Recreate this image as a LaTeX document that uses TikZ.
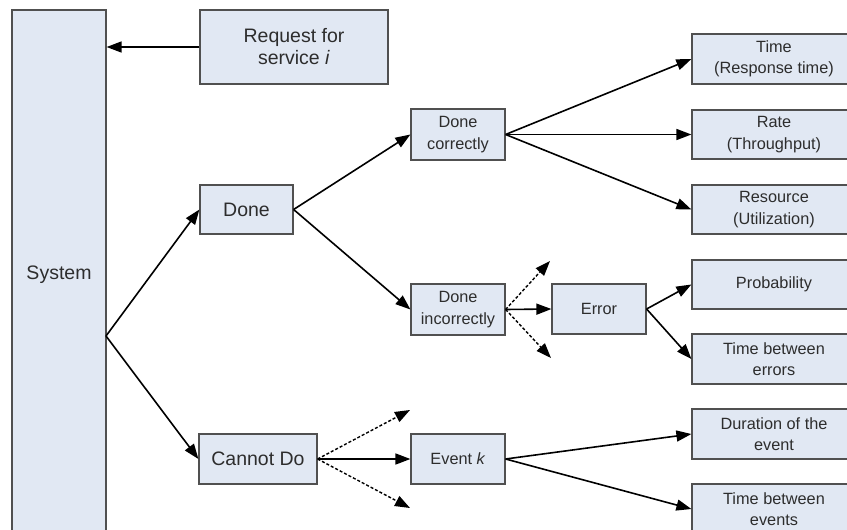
\documentclass[tikz,border=0pt]{standalone}
\usepackage{fontspec}
\setmainfont{Liberation Sans}
\usetikzlibrary{arrows.meta}
\definecolor{boxfill}{RGB}{225,232,243}
\definecolor{boxline}{RGB}{80,80,80}
\definecolor{txt}{RGB}{45,45,45}
\tikzset{
  box/.style={draw=boxline, line width=1.2pt, fill=boxfill, rectangle, inner sep=0pt, align=center, text=txt},
  big/.style={font=\fontsize{19.5}{22}\selectfont},
  small/.style={font=\fontsize{16.3}{21.5}\selectfont},
  conn/.style={line width=1.6pt, -{Triangle[length=15pt,width=11pt]}},
  dconn/.style={line width=1.4pt, dash pattern=on 3pt off 2pt, -{Triangle[length=15pt,width=11pt]}}
}
\begin{document}
\begin{tikzpicture}[x=1pt,y=-1pt]
\useasboundingbox (0,0) rectangle (847,530);
\fill[white] (0,0) rectangle (847,530);
\clip (0,0) rectangle (847,530);
% nodes
\node[box,big,minimum width=94pt,minimum height=530pt] (sys) at (59,275) {System};
\node[box,big,minimum width=188pt,minimum height=74pt] (req) at (294,47) {Request for\\service \textit{i}};
\node[box,big,minimum width=93pt,minimum height=49pt] (done) at (246.5,209.5) {Done};
\node[box,big,minimum width=118pt,minimum height=50pt] (cant) at (258,459) {Cannot Do};
\node[box,small,minimum width=94pt,minimum height=51pt] (dc) at (458,134.5) {Done\\correctly};
\node[box,small,minimum width=94pt,minimum height=51pt] (di) at (458,309.5) {Done\\incorrectly};
\node[box,small,minimum width=94pt,minimum height=50pt] (err) at (599,309) {Error};
\node[box,small,minimum width=94pt,minimum height=50pt] (evt) at (458,459) {Event \textit{k}};
\node[box,small,minimum width=164pt,minimum height=50pt] (time) at (774,59) {Time\\(Response time)};
\node[box,small,minimum width=164pt,minimum height=49pt] (rate) at (774,134.5) {Rate\\(Throughput)};
\node[box,small,minimum width=164pt,minimum height=49pt] (res) at (774,209.5) {Resource\\(Utilization)};
\node[box,small,minimum width=164pt,minimum height=49pt] (prob) at (774,284.5) {Probability};
\node[box,small,minimum width=164pt,minimum height=50pt] (tbe) at (774,359) {Time between\\errors};
\node[box,small,minimum width=164pt,minimum height=50pt] (dur) at (774,434) {Duration of the\\event};
\node[box,small,minimum width=164pt,minimum height=50pt] (tbev) at (774,509) {Time between\\events};
% free ends
\coordinate (sysout) at (106,336);
\coordinate (di1) at (550,261);
\coordinate (di2) at (551,358);
\coordinate (cd1) at (410,410);
\coordinate (cd2) at (410,508);
% connectors
\draw[conn] (req.west) -- (req.west -| sys.east);
\draw[conn] (sysout) -- (done.west);
\draw[conn] (sysout) -- (cant.west);
\draw[conn] (done.east) -- (dc.west);
\draw[conn] (done.east) -- (di.west);
\draw[conn] (dc.east) -- (time.west);
\draw[conn] (dc.east) -- (rate.west);
\draw[conn] (dc.east) -- (res.west);
\draw[conn] (di.east) -- (err.west);
\draw[dconn] (di.east) -- (di1);
\draw[dconn] (di.east) -- (di2);
\draw[conn] (err.east) -- (prob.west);
\draw[conn] (err.east) -- (tbe.west);
\draw[conn] (cant.east) -- (evt.west);
\draw[dconn] (cant.east) -- (cd1);
\draw[dconn] (cant.east) -- (cd2);
\draw[conn] (evt.east) -- (dur.west);
\draw[conn] (evt.east) -- (tbev.west);
\end{tikzpicture}
\end{document}
